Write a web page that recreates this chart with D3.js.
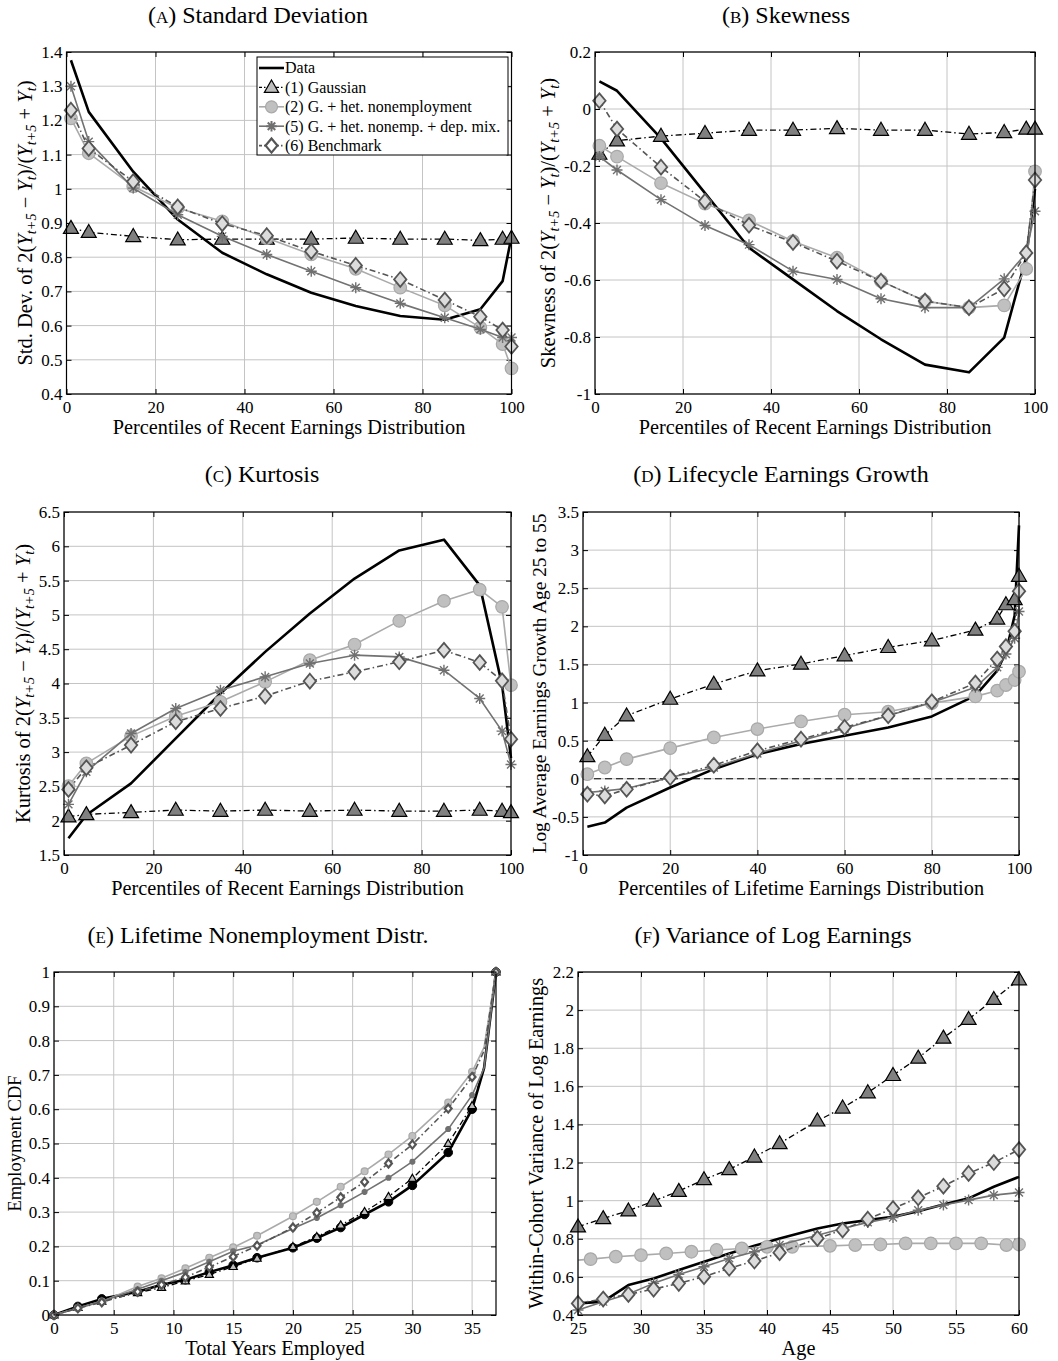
<!DOCTYPE html>
<html>
<head>
<meta charset="utf-8">
<title>Model fit</title>
<script src="https://cdn.jsdelivr.net/npm/d3@7"></script>
<style>
body{margin:0;background:#fff;}
svg text{font-family:"Liberation Serif","DejaVu Serif",serif;fill:#000;}
</style>
</head>
<body>
<svg id="chart" width="1058" height="1361"></svg>
<script>
// ---------- data ----------
// (A)-(C): percentiles of recent earnings
var pctRecent = [1,5,15,25,35,45,55,65,75,85,93,98,100];
var sdData  = [1.376,1.225,1.05,0.91,0.813,0.75,0.696,0.657,0.628,0.617,0.648,0.73,0.86];
var sdGauss = [0.885,0.873,0.861,0.851,0.853,0.853,0.853,0.856,0.853,0.853,0.849,0.853,0.856];
var sdHet   = [1.206,1.104,1.007,0.944,0.905,0.856,0.808,0.766,0.711,0.659,0.594,0.546,0.475];
var sdMix   = [1.30,1.138,1.002,0.924,0.861,0.808,0.759,0.711,0.665,0.623,0.589,0.565,0.565];
var sdBench = [1.23,1.118,1.021,0.947,0.898,0.863,0.817,0.776,0.735,0.675,0.626,0.587,0.539];

var skData  = [0.097,0.064,-0.103,-0.295,-0.487,-0.598,-0.709,-0.808,-0.897,-0.924,-0.802,-0.52,-0.28];
var skGauss = [-0.158,-0.111,-0.095,-0.085,-0.074,-0.074,-0.068,-0.074,-0.074,-0.088,-0.082,-0.07,-0.07];
var skHet   = [-0.129,-0.167,-0.26,-0.332,-0.391,-0.464,-0.522,-0.604,-0.674,-0.697,-0.689,-0.561,-0.219];
var skMix   = [-0.167,-0.214,-0.318,-0.409,-0.476,-0.569,-0.598,-0.666,-0.697,-0.697,-0.596,-0.505,-0.359];
var skBench = [0.029,-0.07,-0.204,-0.324,-0.408,-0.468,-0.534,-0.604,-0.674,-0.697,-0.631,-0.505,-0.249];

var kuData  = [1.743,2.083,2.544,3.2,3.854,4.461,5.02,5.53,5.94,6.097,5.43,3.98,2.91];
var kuGauss = [2.058,2.092,2.121,2.155,2.14,2.155,2.14,2.155,2.14,2.14,2.155,2.14,2.121];
var kuHet   = [2.505,2.835,3.233,3.524,3.733,4.024,4.34,4.568,4.913,5.204,5.369,5.117,3.976];
var kuMix   = [2.238,2.714,3.272,3.636,3.903,4.097,4.291,4.413,4.388,4.194,3.782,3.306,2.82];
var kuBench = [2.456,2.772,3.102,3.442,3.636,3.816,4.034,4.17,4.316,4.485,4.306,4.039,3.189];

// (D): percentiles of lifetime earnings
var pctLifetime = [1,5,10,20,30,40,50,60,70,80,90,95,97,99,100];
var grData  = [-0.628,-0.575,-0.378,-0.115,0.126,0.323,0.455,0.564,0.674,0.818,1.09,1.418,1.66,2.142,3.325];
var grGauss = [0.292,0.573,0.827,1.046,1.243,1.418,1.506,1.616,1.725,1.813,1.953,2.098,2.286,2.352,2.659];
var grHet   = [0.06,0.148,0.258,0.402,0.542,0.652,0.752,0.84,0.88,0.993,1.081,1.156,1.23,1.296,1.405];
var grMix   = [-0.181,-0.159,-0.128,0.016,0.148,0.332,0.498,0.66,0.827,1.002,1.2,1.462,1.638,1.844,2.194];
var grBench = [-0.203,-0.225,-0.137,0.016,0.178,0.367,0.52,0.674,0.827,1.011,1.256,1.572,1.734,1.936,2.461];

// (E): total years employed
var years = [0,2,4,7,9,11,13,15,17,20,22,24,26,28,30,33,35,36,37];
var cdfData  = [0,0.025,0.047,0.068,0.088,0.103,0.125,0.145,0.167,0.196,0.224,0.255,0.293,0.33,0.378,0.474,0.6,0.72,1];
var cdfGauss = [0,0.022,0.04,0.065,0.08,0.099,0.118,0.141,0.165,0.199,0.228,0.262,0.301,0.345,0.398,0.5,0.61,0.72,1];
var cdfHet   = [0,0.02,0.039,0.083,0.107,0.136,0.167,0.197,0.231,0.288,0.33,0.374,0.419,0.468,0.522,0.619,0.709,0.78,1];
var cdfMix   = [0,0.02,0.04,0.075,0.1,0.125,0.155,0.186,0.204,0.252,0.283,0.32,0.359,0.4,0.447,0.542,0.641,0.72,1];
var cdfBench = [0,0.02,0.037,0.068,0.088,0.11,0.14,0.17,0.202,0.255,0.298,0.343,0.388,0.442,0.497,0.602,0.694,0.77,1];

// (F): age
var agesA = [25,27,29,31,33,35,37,39,41,44,46,48,50,52,54,56,58,60];
var agesB = [25,26,28,30,32,34,36,38,40,42,45,47,49,51,53,55,57,59,60];
var vlData  = [0.461,0.47,0.557,0.592,0.636,0.68,0.723,0.763,0.802,0.854,0.88,0.898,0.915,0.945,0.98,1.012,1.073,1.125];
var vlGauss = [0.863,0.907,0.947,0.998,1.05,1.111,1.164,1.23,1.3,1.419,1.487,1.567,1.658,1.749,1.854,1.952,2.057,2.16];
var vlHet   = [0.688,0.693,0.706,0.714,0.723,0.732,0.741,0.749,0.758,0.758,0.763,0.767,0.77,0.776,0.776,0.776,0.776,0.767,0.77];
var vlMix   = [0.426,0.47,0.51,0.566,0.613,0.653,0.697,0.732,0.767,0.819,0.854,0.886,0.912,0.95,0.977,1.003,1.029,1.043];
var vlBench = [0.461,0.484,0.508,0.536,0.566,0.601,0.645,0.683,0.727,0.802,0.846,0.903,0.959,1.015,1.076,1.143,1.2,1.268];

// tick labels
var pctTicks = [0,20,40,60,80,100];
var yearTicks = [0,5,10,15,20,25,30,35];
var ageTicks = [25,30,35,40,45,50,55,60];
var sdTicks = [0.4,0.5,0.6,0.7,0.8,0.9,1,1.1,1.2,1.3,1.4];
var skTicks = [-1,-0.8,-0.6,-0.4,-0.2,0,0.2];
var kuTicks = [1.5,2,2.5,3,3.5,4,4.5,5,5.5,6,6.5];
var grTicks = [-1,-0.5,0,0.5,1,1.5,2,2.5,3,3.5];
var cdfTicks = [0,0.1,0.2,0.3,0.4,0.5,0.6,0.7,0.8,0.9,1];
var vlTicks = [0.4,0.6,0.8,1,1.2,1.4,1.6,1.8,2,2.2];

var legendNames = ["Data","(1) Gaussian","(2) G. + het. nonemployment","(5) G. + het. nonemp. + dep. mix.","(6) Benchmark"];

// ---------- styles ----------
var style = {
  data:  {stroke:"#000",   width:2.6, dash:null},
  gauss: {stroke:"#000",   width:1.3, dash:"6,3,1.5,3"},
  het:   {stroke:"#aaaaaa",width:1.6, dash:null},
  mix:   {stroke:"#727272",width:1.6, dash:null},
  bench: {stroke:"#555",   width:1.6, dash:"6,3,1.5,3"}
};
var keys = ["data","gauss","het","mix","bench"];

var svg = d3.select("#chart");
function fmt(v){ return String(+v.toFixed(2)); }

function drawMarker(g, key, cx, cy, s, dataMarker){
  if(key=="gauss"){
    var w=15*s, h=13*s;
    g.append("path").attr("d","M"+cx+","+(cy-h*0.6)+" L"+(cx+w/2)+","+(cy+h*0.4)+" L"+(cx-w/2)+","+(cy+h*0.4)+" Z")
      .style("fill",s<1?"#bdbdbd":"#808080").style("stroke","#000").style("stroke-width",1.2);
  }else if(key=="het"){
    g.append("circle").attr("cx",cx).attr("cy",cy).attr("r",6.3*s)
      .style("fill","#c0c0c0").style("stroke","#a8a8a8").style("stroke-width",1.2);
  }else if(key=="mix"){
    var r=5.5*s, d=r*0.72;
    var p="M"+cx+","+(cy-r)+"V"+(cy+r)+"M"+(cx-r)+","+cy+"H"+(cx+r)+
          "M"+(cx-d)+","+(cy-d)+"L"+(cx+d)+","+(cy+d)+"M"+(cx-d)+","+(cy+d)+"L"+(cx+d)+","+(cy-d);
    g.append("path").attr("d",p).style("fill","none").style("stroke","#707070").style("stroke-width",s<1?2:1.4);
  }else if(key=="bench"){
    var a=6.2*s, b=7.4*s;
    g.append("path").attr("d","M"+cx+","+(cy-b)+" L"+(cx+a)+","+cy+" L"+cx+","+(cy+b)+" L"+(cx-a)+","+cy+" Z")
      .style("fill",s<1?"#fff":"#dcdcdc").style("stroke","#555").style("stroke-width",s<1?2.2:1.8);
  }else if(key=="data" && dataMarker){
    g.append("circle").attr("cx",cx).attr("cy",cy).attr("r",4.3).style("fill","#000").style("stroke","#000");
  }
}

function richText(t, parts){
  parts.forEach(function(p){
    var ts = t.append("tspan").text(p.t);
    if(p.i) ts.style("font-style","italic");
    if(p.sub){ ts.attr("font-size","0.7em").attr("dy","0.3em"); }
    if(p.back){ ts.attr("dy","-0.21em"); }
  });
}
var ratioLabel = function(head){
  return [{t:head+" 2("},{t:"Y",i:true},{t:"t+5",sub:true,i:true},{t:" − ",back:true},{t:"Y",i:true},{t:"t",sub:true,i:true},
    {t:")/(",back:true},{t:"Y",i:true},{t:"t+5",sub:true,i:true},{t:" + ",back:true},{t:"Y",i:true},{t:"t",sub:true,i:true},{t:")",back:true}];
};

var panels = [
  {letter:"A", title:"Standard Deviation", box:[66.5,52,511.5,394], xd:[0,100], yd:[0.4,1.4], xt:pctTicks, yt:sdTicks,
   xlab:"Percentiles of Recent Earnings Distribution", ylab:ratioLabel("Std. Dev. of"), ylfs:20.5, tx:258, ty:23, lx:25, legend:true,
   x:[pctRecent,pctRecent,pctRecent,pctRecent,pctRecent], y:[sdData,sdGauss,sdHet,sdMix,sdBench]},
  {letter:"B", title:"Skewness", box:[595,52,1035,394], xd:[0,100], yd:[-1,0.2], xt:pctTicks, yt:skTicks,
   xlab:"Percentiles of Recent Earnings Distribution", ylab:ratioLabel("Skewness of"), ylfs:20.5, tx:786, ty:23, lx:548,
   x:[pctRecent,pctRecent,pctRecent,pctRecent,pctRecent], y:[skData,skGauss,skHet,skMix,skBench]},
  {letter:"C", title:"Kurtosis", box:[64,512,511,855], xd:[0,100], yd:[1.5,6.5], xt:pctTicks, yt:kuTicks,
   xlab:"Percentiles of Recent Earnings Distribution", ylab:ratioLabel("Kurtosis of"), ylfs:20.5, tx:262, ty:482, lx:23,
   x:[pctRecent,pctRecent,pctRecent,pctRecent,pctRecent], y:[kuData,kuGauss,kuHet,kuMix,kuBench]},
  {letter:"D", title:"Lifecycle Earnings Growth", box:[583,512,1019,855], xd:[0,100], yd:[-1,3.5], xt:pctTicks, yt:grTicks,
   xlab:"Percentiles of Lifetime Earnings Distribution", ylab:[{t:"Log Average Earnings Growth Age 25 to 55"}], ylfs:19.3, tx:781, ty:482, lx:539, zero:true,
   x:[pctLifetime,pctLifetime,pctLifetime,pctLifetime,pctLifetime], y:[grData,grGauss,grHet,grMix,grBench]},
  {letter:"E", title:"Lifetime Nonemployment Distr.", box:[54,972,496,1315], xd:[0,37], yd:[0,1], xt:yearTicks, yt:cdfTicks,
   xlab:"Total Years Employed", ylab:[{t:"Employment CDF"}], ylfs:18.5, tx:258, ty:943, lx:15, ms:0.55, dataMarker:true, skipX:[36],
   x:[years,years,years,years,years], y:[cdfData,cdfGauss,cdfHet,cdfMix,cdfBench]},
  {letter:"F", title:"Variance of Log Earnings", box:[578,972,1019,1315], xd:[25,60], yd:[0.4,2.2], xt:ageTicks, yt:vlTicks,
   xlab:"Age", ylab:[{t:"Within-Cohort Variance of Log Earnings"}], ylfs:20.3, tx:773, ty:943, lx:536, skipHetFirst:true,
   x:[agesA,agesA,agesB,agesA,agesA], y:[vlData,vlGauss,vlHet,vlMix,vlBench]}
];

panels.forEach(function(p){
  var L=p.box[0], T=p.box[1], R=p.box[2], B=p.box[3];
  var x = d3.scaleLinear().domain(p.xd).range([L,R]);
  var y = d3.scaleLinear().domain(p.yd).range([B,T]);
  var g = svg.append("g");

  // title
  var tt = g.append("text").attr("x",p.tx).attr("y",p.ty).attr("text-anchor","middle").style("font-size","24px");
  tt.append("tspan").text("(");
  tt.append("tspan").text(p.letter).style("font-size","17px");
  tt.append("tspan").text(") "+p.title);

  // grid
  var grid = g.append("g");
  grid.selectAll("line.vx").data(p.xt).enter().append("line")
    .attr("x1",function(d){return x(d);}).attr("x2",function(d){return x(d);}).attr("y1",T).attr("y2",B)
    .style("stroke","#c4c4c4").style("stroke-width",1);
  grid.selectAll("line.hy").data(p.yt).enter().append("line")
    .attr("y1",function(d){return y(d);}).attr("y2",function(d){return y(d);}).attr("x1",L).attr("x2",R)
    .style("stroke","#c4c4c4").style("stroke-width",1);

  // axes (inward ticks on all four sides)
  var ax = g.append("g");
  ax.append("g").attr("transform","translate(0,"+B+")")
    .call(d3.axisBottom(x).tickValues(p.xt).tickSizeInner(-5).tickSizeOuter(0).tickPadding(7).tickFormat(fmt));
  ax.append("g").attr("transform","translate("+L+",0)")
    .call(d3.axisLeft(y).tickValues(p.yt).tickSizeInner(-5).tickSizeOuter(0).tickPadding(4).tickFormat(fmt));
  ax.append("g").attr("transform","translate(0,"+T+")")
    .call(d3.axisTop(x).tickValues(p.xt).tickSizeInner(-5).tickSizeOuter(0).tickFormat(""));
  ax.append("g").attr("transform","translate("+R+",0)")
    .call(d3.axisRight(y).tickValues(p.yt).tickSizeInner(-5).tickSizeOuter(0).tickFormat(""));
  ax.selectAll(".domain").remove();
  ax.selectAll(".tick line").style("stroke","#000");
  ax.selectAll(".tick text").style("font-family","'Liberation Serif',serif").style("font-size","17px").style("fill","#000");

  if(p.zero){
    g.append("line").attr("x1",L).attr("x2",R).attr("y1",y(0)).attr("y2",y(0))
      .style("stroke","#000").style("stroke-width",1).style("stroke-dasharray","7,4");
  }

  // series
  var line = d3.line().x(function(d){return x(d[0]);}).y(function(d){return y(d[1]);});
  var ms = p.ms || 1;
  keys.forEach(function(k,i){
    var pts = p.x[i].map(function(v,j){ return [v,p.y[i][j]]; });
    var st = style[k];
    g.append("path").datum(pts).attr("d",line).style("fill","none")
      .style("stroke",st.stroke).style("stroke-width",st.width).style("stroke-dasharray",st.dash)
      .style("stroke-linejoin","round");
    var mg = g.append("g");
    pts.forEach(function(d,j){
      if(p.skipX && p.skipX.indexOf(d[0])>=0) return;
      if(p.skipHetFirst && k=="het" && j==0) return;
      drawMarker(mg,k,x(d[0]),y(d[1]),ms,p.dataMarker);
    });
  });

  // frame
  g.append("rect").attr("x",L).attr("y",T).attr("width",R-L).attr("height",B-T)
    .style("fill","none").style("stroke","#000").style("stroke-width",1.2);

  // axis labels
  g.append("text").attr("x",(L+R)/2).attr("y",B+40).attr("text-anchor","middle").style("font-size","20.3px").text(p.xlab);
  var yl = g.append("text").attr("transform","translate("+p.lx+","+((T+B)/2)+") rotate(-90)")
    .attr("text-anchor","middle").attr("dy","0.35em").style("font-size",p.ylfs+"px");
  richText(yl,p.ylab);

  // legend
  if(p.legend){
    var lg = g.append("g");
    lg.append("rect").attr("x",257).attr("y",57).attr("width",251).attr("height",98)
      .style("fill","#fff").style("stroke","#000").style("stroke-width",1);
    keys.forEach(function(k,i){
      var yy = 68 + i*19.4, st = style[k];
      lg.append("line").attr("x1",259).attr("x2",284).attr("y1",yy).attr("y2",yy)
        .style("stroke",st.stroke).style("stroke-width",st.width).style("stroke-dasharray",k=="gauss"||k=="bench"?"3,2,1.5,2":null);
      drawMarker(lg,k,271.5,yy,0.95,false);
      lg.append("text").attr("x",285).attr("y",yy).attr("dy","0.34em").style("font-size","16px").text(legendNames[i]);
    });
  }
});
</script>
</body>
</html>
